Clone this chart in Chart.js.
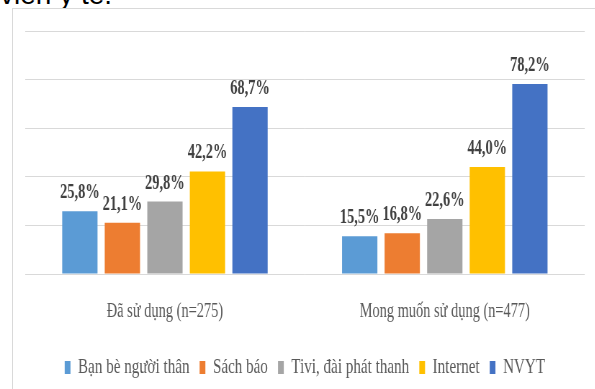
<!DOCTYPE html>
<html><head><meta charset="utf-8">
<script src="https://cdn.jsdelivr.net/npm/chart.js@4"></script>
<style>
html,body{margin:0;padding:0;background:#fff;overflow:hidden;width:595px;height:389px;}
#top{position:absolute;left:0;top:-20px;font:28px "Liberation Sans",sans-serif;color:#000;line-height:30px;white-space:nowrap;}
#box{position:absolute;left:12px;top:8px;width:600px;height:400px;border:1px solid #d9d9d9;box-sizing:border-box;background:#fff;}
#wrap{position:absolute;left:0;top:0;width:826px;height:389px;transform:scaleX(0.72);transform-origin:0 0;}
</style></head><body>
<div id="top">viên y tế.</div>
<div id="box"></div>
<div id="wrap"><canvas id="c"></canvas></div>
<script>
const categories = ['Đã sử dụng (n=275)', 'Mong muốn sử dụng (n=477)'];
const seriesNames = ['Bạn bè người thân', 'Sách báo', 'Tivi, đài phát thanh', 'Internet', 'NVYT'];
const banBeNguoiThan = [25.8, 15.5];
const sachBao = [21.1, 16.8];
const tiviDaiPhatThanh = [29.8, 22.6];
const internet = [42.2, 44.0];
const nvyt = [68.7, 78.2];
const yTicks = [0, 20, 40, 60, 80, 100];

const colors = ['#5B9BD5', '#ED7D31', '#A5A5A5', '#FFC000', '#4472C4'];
const seriesValues = [banBeNguoiThan, sachBao, tiviDaiPhatThanh, internet, nvyt];

const labelPlugin = {
  id: 'valueLabels',
  afterDatasetsDraw(chart) {
    const ctx = chart.ctx;
    ctx.save();
    ctx.font = 'bold 20px "Liberation Serif", serif';
    ctx.fillStyle = '#404040';
    ctx.textAlign = 'center';
    ctx.textBaseline = 'alphabetic';
    chart.data.datasets.forEach((ds, i) => {
      const meta = chart.getDatasetMeta(i);
      meta.data.forEach((bar, j) => {
        const v = ds.data[j];
        ctx.fillText(v.toFixed(1).replace('.', ',') + '%', bar.x, bar.y - 13);
      });
    });
    ctx.restore();
  }
};

new Chart(document.getElementById('c'), {
  type: 'bar',
  data: {
    labels: categories,
    datasets: seriesNames.map((n, i) => ({
      label: n,
      data: seriesValues[i],
      backgroundColor: colors[i],
      borderWidth: 0,
      barPercentage: 0.83,
      categoryPercentage: 0.76
    }))
  },
  options: {
    responsive: true,
    maintainAspectRatio: false,
    animation: false,
    devicePixelRatio: 1,
    layout: { padding: { left: 34.7, right: 13.9, top: 31, bottom: 1 } },
    plugins: {
      tooltip: { enabled: false },
      legend: {
        position: 'bottom',
        labels: {
          font: { family: '"Liberation Serif", serif', size: 21 },
          color: '#595959',
          boxWidth: 8,
          boxHeight: 13,
          padding: 14
        }
      }
    },
    scales: {
      x: {
        grid: { display: false, drawTicks: false },
        border: { display: false },
        ticks: {
          font: { family: '"Liberation Serif", serif', size: 20 },
          color: '#595959',
          padding: 26
        },
        afterFit(s) { s.height = 69; }
      },
      y: {
        min: yTicks[0],
        max: yTicks[yTicks.length - 1],
        afterBuildTicks(s) { s.ticks = yTicks.map(v => ({ value: v })); },
        ticks: { display: false },
        grid: { color: '#d9d9d9', drawTicks: false },
        border: { display: false },
        afterFit(s) { s.width = 0; }
      }
    }
  },
  plugins: [labelPlugin]
});
</script>
</body></html>
